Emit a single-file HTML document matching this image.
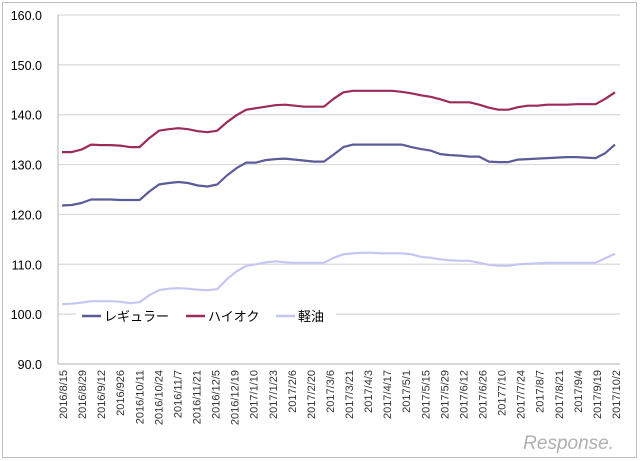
<!DOCTYPE html>
<html><head><meta charset="utf-8"><style>
html,body{margin:0;padding:0;background:#fff;}
svg{display:block;font-family:"Liberation Sans","Noto Sans CJK JP",sans-serif;}
</style></head><body>
<svg width="640" height="461" viewBox="0 0 640 461">
<rect x="2.5" y="2.5" width="634" height="455" fill="#fff" stroke="#bfbfbf"/>
<g id="grid"></g><g id="yl"></g><g id="xl"></g><g id="lines"></g>
<g>
<rect x="76" y="306" width="260" height="18" fill="#fff"/>
<line x1="82" y1="316" x2="101" y2="316" stroke="#5b5b9a" stroke-width="2.5"/>
<text x="104" y="321" font-size="13" fill="#000">レギュラー</text>
<line x1="186" y1="316" x2="205" y2="316" stroke="#9c2a5a" stroke-width="2.5"/>
<text x="208" y="321" font-size="13" fill="#000">ハイオク</text>
<line x1="276" y1="316" x2="295" y2="316" stroke="#c6c6f5" stroke-width="2.5"/>
<text x="298" y="321" font-size="13" fill="#000">軽油</text>
</g>
<text x="614" y="449" font-size="19" fill="#b0b0b0" text-anchor="end" font-style="italic">Response.</text>
</svg>
<script>
const yTicks=[90,100,110,120,130,140,150,160];
const dateLabels=["2016/8/15","2016/8/29","2016/9/12","2016/926","2016/10/11","2016/10/24","2016/11/7","2016/11/21","2016/12/5","2016/12/19","2017/1/10","2017/1/23","2017/2/6","2017/2/20","2017/3/6","2017/3/21","2017/4/3","2017/4/17","2017/5/1","2017/5/15","2017/5/29","2017/6/12","2017/6/26","20177/10","2017/7/24","2017/8/7","2017/8/21","2017/9/4","2017/9/19","2017/10/2"];
const regular=[121.8,121.9,122.3,123,123,123,122.9,122.9,122.9,124.6,126,126.3,126.5,126.3,125.8,125.6,126,127.8,129.3,130.4,130.4,130.9,131.1,131.2,131,130.8,130.6,130.6,132,133.5,134,134,134,134,134,134,133.5,133.1,132.8,132.1,131.9,131.8,131.6,131.6,130.6,130.5,130.5,131,131.1,131.2,131.3,131.4,131.5,131.5,131.4,131.3,132.3,134];
const highOctane=[132.5,132.5,133,134,133.9,133.9,133.8,133.5,133.5,135.3,136.8,137.1,137.3,137.1,136.7,136.5,136.8,138.5,139.9,141,141.3,141.6,141.9,142,141.8,141.6,141.6,141.6,143.2,144.5,144.8,144.8,144.8,144.8,144.8,144.6,144.3,143.9,143.6,143.1,142.5,142.5,142.5,142,141.4,141,141,141.5,141.8,141.8,142,142,142,142.1,142.1,142.1,143.2,144.5];
const diesel=[102,102.1,102.3,102.6,102.6,102.6,102.5,102.2,102.4,103.8,104.8,105.1,105.2,105.1,104.9,104.8,105,107,108.6,109.7,110,110.4,110.6,110.4,110.3,110.3,110.3,110.3,111.3,112,112.2,112.3,112.3,112.2,112.2,112.2,112,111.5,111.3,111,110.8,110.7,110.7,110.3,109.9,109.7,109.7,110,110.1,110.2,110.3,110.3,110.3,110.3,110.3,110.3,111.2,112.1];
const NS="http://www.w3.org/2000/svg";
const L=58,R=620,T=15,B=364;
function y(v){return B-(v-90)/70*(B-T);}
function xi(i,n){return 62+i*(615-62)/(n-1);}
function mk(t,a,p){const e=document.createElementNS(NS,t);for(const k in a)e.setAttribute(k,a[k]);p.appendChild(e);return e;}
const g=document.getElementById('grid');
yTicks.forEach(v=>{
 const ln=mk('line',{x1:L,x2:R,y1:y(v),y2:y(v),stroke:v===90?'#bfbfbf':'#d9d9d9','stroke-width':1.2},g);
 
 
 const t=mk('text',{x:42,y:y(v)+5,'font-size':12.5,'text-anchor':'end',fill:'#000'},document.getElementById('yl'));
 t.textContent=v.toFixed(1);
 
 
});
const ax=mk('line',{x1:L,x2:L,y1:T,y2:B,stroke:'#bfbfbf','stroke-width':1.2},g);


dateLabels.forEach((d,k)=>{
 const x=xi(k*2,59)+1;
 const t=mk('text',{transform:`translate(${x+4},370) rotate(-90)`,'font-size':11,'text-anchor':'end',fill:'#333'},document.getElementById('xl'));
 t.textContent=d;
 
 
});
[[regular,'#5b5b9a','regular-line'],[highOctane,'#9c2a5a','high-octane-line'],[diesel,'#c6c6f5','diesel-line']].forEach(([s,c,n])=>{
 const p=mk('polyline',{points:s.map((v,i)=>xi(i,s.length).toFixed(1)+','+y(v).toFixed(1)).join(' '),fill:'none',stroke:c,'stroke-width':2.2,'stroke-linejoin':'round'},document.getElementById('lines'));
 
 
});
</script>
</body></html>
